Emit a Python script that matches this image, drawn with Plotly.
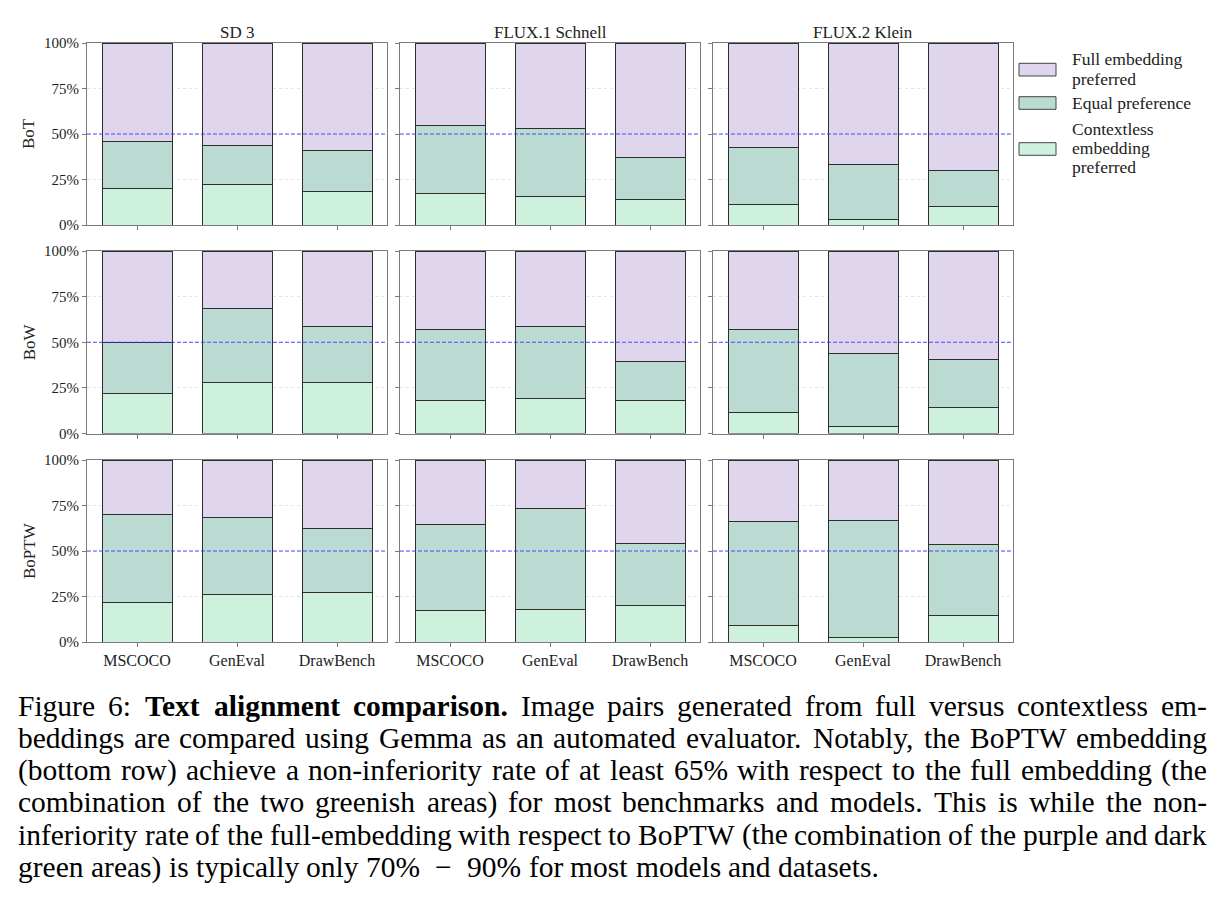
import plotly.graph_objects as go

# ---------------- data ----------------
models = ["SD 3", "FLUX.1 Schnell", "FLUX.2 Klein"]
embeddings = ["BoT", "BoW", "BoPTW"]
benchmarks = ["MSCOCO", "GenEval", "DrawBench"]
y_tick_vals = [0, 25, 50, 75, 100]
y_tick_text = ["0%", "25%", "50%", "75%", "100%"]
series_names = ["Full embedding preferred", "Equal preference", "Contextless embedding preferred"]

# values indexed [embedding row][model column][benchmark]
contextless = [
    [[20.1, 22.5, 18.5], [17.4, 15.7, 14.1], [11.5, 3.1, 10.2]],
    [[21.7, 27.7, 28.2], [17.9, 19.3, 18.2], [11.5, 3.6, 14.4]],
    [[21.9, 26.3, 27.2], [17.5, 18.1, 20.3], [8.8, 2.7, 14.4]],
]
equal = [
    [[25.8, 21.2, 22.5], [37.4, 37.1, 23.2], [31.3, 30.2, 19.6]],
    [[28.0, 41.0, 30.6], [38.9, 39.5, 21.5], [45.3, 40.5, 25.9]],
    [[48.4, 42.1, 35.0], [47.1, 55.3, 33.9], [57.6, 64.1, 39.2]],
]
full = [
    [[54.1, 56.3, 59.0], [45.2, 47.2, 62.7], [57.2, 66.7, 70.2]],
    [[50.3, 31.3, 41.2], [43.2, 41.2, 60.3], [43.2, 55.9, 59.7]],
    [[29.7, 31.6, 37.8], [35.4, 26.6, 45.8], [33.6, 33.2, 46.4]],
]
reference_level = 50

caption_lines = [
    "Figure 6: **Text alignment comparison.** Image pairs generated from full versus contextless em-",
    "beddings are compared using Gemma as an automated evaluator. Notably, the BoPTW embedding",
    "(bottom row) achieve a non-inferiority rate of at least 65% with respect to the full embedding (the",
    "combination of the two greenish areas) for most benchmarks and models. This is while the non-",
    "inferiority rate of the full-embedding with respect to BoPTW (the combination of the purple and dark",
    "green areas) is typically only 70% − 90% for most models and datasets.",
]

# ---------------- style ----------------
W, H = 1225, 920
FONT = "Liberation Serif"
C_FULL = "#dfd5ec"
C_EQUAL = "#bbdad2"
C_CTX = "#cdf1dc"
EDGE = "#2e2e2e"
FRAME = "#7a7a7a"

col_px = [(87, 387), (400, 700), (713, 1013)]
row_px = [(43, 225), (251, 433.5), (460, 642)]


def px_x(p):
    return p / W


def px_y(p):
    return 1 - p / H


fig = go.Figure()
layout_axes = {}
shapes = []
annotations = []

for r in range(3):
    for c in range(3):
        k = r * 3 + c + 1
        xa = "x" if k == 1 else f"x{k}"
        ya = "y" if k == 1 else f"y{k}"
        xs = [0, 1, 2]
        for vals, color, name in [
            (contextless[r][c], C_CTX, series_names[2]),
            (equal[r][c], C_EQUAL, series_names[1]),
            (full[r][c], C_FULL, series_names[0]),
        ]:
            fig.add_trace(go.Bar(
                x=xs, y=vals, width=0.7, name=name, showlegend=False,
                marker=dict(color=color, line=dict(color=EDGE, width=1)),
                xaxis=xa, yaxis=ya,
            ))
        x0, x1 = col_px[c]
        y0, y1 = row_px[r]
        layout_axes["xaxis" if k == 1 else f"xaxis{k}"] = dict(
            domain=[px_x(x0), px_x(x1)], anchor=ya, range=[-0.5, 2.5],
            tickvals=xs, ticktext=benchmarks, showticklabels=(r == 2),
            showline=True, mirror=True, linecolor=FRAME, linewidth=1,
            ticks="outside", ticklen=4, tickcolor=FRAME, showgrid=False,
            zeroline=False, automargin=False,
            tickfont=dict(family=FONT, size=16, color="#222"),
        )
        layout_axes["yaxis" if k == 1 else f"yaxis{k}"] = dict(
            domain=[px_y(y1), px_y(y0)], anchor=xa, range=[0, 100],
            tickvals=y_tick_vals, ticktext=y_tick_text, showticklabels=(c == 0),
            showline=True, mirror=True, linecolor=FRAME, linewidth=1,
            ticks="outside", ticklen=4, tickcolor=FRAME,
            showgrid=True, gridcolor="#e4e4e4", griddash="dot", gridwidth=1,
            zeroline=False, automargin=False,
            tickfont=dict(family=FONT, size=15, color="#222"),
        )
        shapes.append(dict(
            type="line", xref=f"{xa} domain", yref=ya, x0=0, x1=1,
            y0=reference_level, y1=reference_level,
            line=dict(color="rgba(50,50,255,0.85)", width=1.2, dash="4px,2px"),
            layer="above",
        ))

# column titles
for c, m in enumerate(models):
    annotations.append(dict(
        text=m, x=px_x(sum(col_px[c]) / 2), y=px_y(33), xref="paper", yref="paper",
        showarrow=False, xanchor="center", yanchor="middle",
        font=dict(family=FONT, size=17, color="#222"),
    ))
# row labels
for r, e in enumerate(embeddings):
    annotations.append(dict(
        text=e, x=px_x(29), y=px_y(sum(row_px[r]) / 2), xref="paper", yref="paper",
        showarrow=False, xanchor="center", yanchor="middle", textangle=-90,
        font=dict(family=FONT, size=17, color="#222"),
    ))

# legend (drawn manually)
legend_items = [
    (C_FULL, (63.3, 76.0), ["Full embedding", "preferred"], [59.3, 79.3]),
    (C_EQUAL, (96.7, 109.3), ["Equal preference"], [103.3]),
    (C_CTX, (142.7, 155.3), ["Contextless", "embedding", "preferred"], [129.3, 148.3, 167.3]),
]
for color, (ya0, ya1), lines, ys in legend_items:
    shapes.append(dict(type="rect", xref="paper", yref="paper",
                       x0=px_x(1019), x1=px_x(1056), y0=px_y(ya1), y1=px_y(ya0),
                       fillcolor=color, line=dict(color="#444", width=1)))
    for t, yy in zip(lines, ys):
        annotations.append(dict(
            text=t, x=px_x(1070), y=px_y(yy), xref="paper", yref="paper",
            showarrow=False, xanchor="left", yanchor="middle",
            font=dict(family=FONT, size=17.5, color="#222"),
        ))

# ---------------- caption (justified, word by word) ----------------
TR = dict(zip("abcdefghijklmnopqrstuvwxyz",
              [444, 500, 444, 500, 444, 333, 500, 500, 278, 278, 500, 278, 778, 500, 500, 500, 500, 333, 389, 278, 500, 500, 722, 500, 500, 444]))
TR.update(dict(zip("ABCDEFGHIJKLMNOPQRSTUVWXYZ",
                   [722, 667, 667, 722, 611, 556, 722, 722, 333, 389, 722, 611, 889, 722, 722, 556, 722, 667, 556, 611, 722, 722, 944, 722, 722, 611])))
TR.update({"0": 500, "1": 500, "2": 500, "3": 500, "4": 500, "5": 500, "6": 500, "7": 500, "8": 500, "9": 500,
           ":": 278, ".": 250, ",": 250, "(": 333, ")": 333, "%": 833, "-": 333, "−": 1100, " ": 250})
TB = dict(zip("abcdefghijklmnopqrstuvwxyz",
              [500, 556, 444, 556, 444, 333, 500, 556, 278, 333, 556, 278, 833, 556, 500, 556, 556, 444, 389, 333, 556, 500, 722, 500, 500, 444]))
TB.update({"T": 667, ".": 250})

FS = 29.5
CAP_X0, CAP_X1 = 18, 1207
BASE0, LEAD = 715, 32.3


def word_width(w, bold):
    tab = TB if bold else TR
    return sum(tab.get(ch, TR.get(ch, 500)) for ch in w) * FS / 1000


for i, line in enumerate(caption_lines):
    tokens = []
    bold = False
    for tok in line.split(" "):
        b = bold
        if tok.startswith("**"):
            b = True
            tok = tok[2:]
            bold = True
        if tok.endswith("**"):
            tok = tok[:-2]
            bold = False
        tokens.append((tok, b))
    widths = [word_width(t, b) for t, b in tokens]
    if i < len(caption_lines) - 1:
        gap = (CAP_X1 - CAP_X0 - sum(widths)) / (len(tokens) - 1)
    else:
        gap = 250 * FS / 1000
    x = CAP_X0
    yc = BASE0 + LEAD * i - 0.32 * FS
    for (t, b), w in zip(tokens, widths):
        annotations.append(dict(
            text=f"<b>{t}</b>" if b else t, x=px_x(x + w / 2), y=px_y(yc),
            xref="paper", yref="paper", showarrow=False,
            xanchor="center", yanchor="middle",
            font=dict(family=FONT, size=FS, color="#000"),
        ))
        x += w + gap

fig.update_layout(
    width=W, height=H, margin=dict(l=0, r=0, t=0, b=0, pad=0, autoexpand=False),
    paper_bgcolor="white", plot_bgcolor="white",
    barmode="stack", showlegend=False,
    shapes=shapes, annotations=annotations,
    **layout_axes,
)

fig.write_html("out.html")
